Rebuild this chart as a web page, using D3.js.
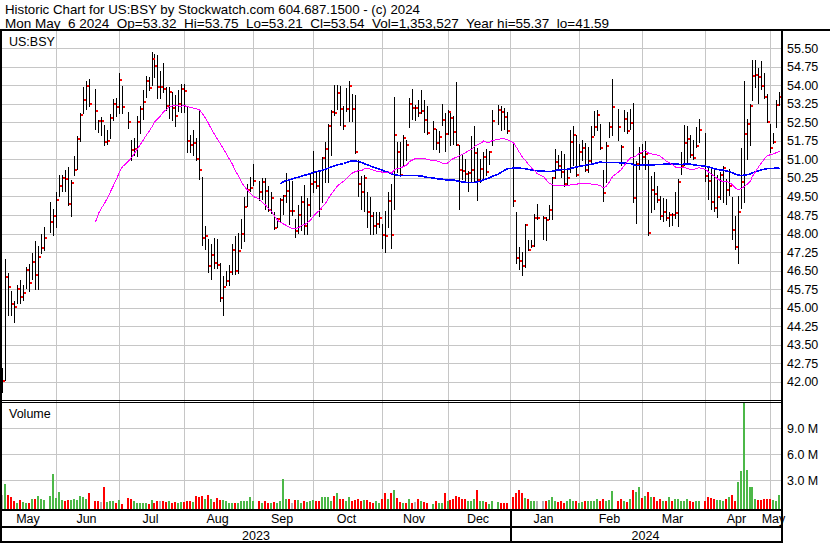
<!DOCTYPE html>
<html><head><meta charset="utf-8">
<script src="https://cdn.jsdelivr.net/npm/d3@7"></script>
<style>
body{margin:0;background:#fff}
svg{display:block}
text{font-family:"Liberation Sans",Arial,sans-serif;fill:#000}
</style></head>
<body><svg id="c" width="830" height="543"></svg>
<script>
// ---- data: one entry per weekday slot (May 8 2023 .. May 6 2024); null = market holiday
const high=[42.55,46.96,46.42,45.67,45.26,45.90,46.12,45.90,46.66,46.75,
47.23,47.70,47.50,47.97,48.25,null,49.26,48.99,49.67,50.35,
50.35,50.59,50.69,50.15,51.12,51.95,52.86,53.94,54.17,54.25,
null,53.85,52.59,52.72,52.38,52.18,52.82,53.44,53.47,54.52,
53.98,null,52.92,51.77,51.87,52.76,53.15,53.81,54.39,54.32,
55.37,55.26,55.23,54.58,54.89,53.94,53.94,53.74,53.60,53.81,
54.04,54.04,53.13,52.00,52.18,51.87,52.95,50.28,48.31,47.77,
47.57,47.80,47.77,46.82,46.28,46.48,46.71,47.57,47.88,48.04,
48.59,49.47,50.01,50.28,50.82,null,50.14,50.24,50.24,49.91,
49.67,48.88,48.61,49.43,49.56,50.44,50.21,50.14,48.59,49.15,
49.53,49.97,49.43,50.42,51.36,50.55,50.51,51.09,51.70,52.45,
53.02,54.01,54.01,53.98,53.17,53.90,54.17,53.63,53.60,50.96,
50.32,50.35,49.67,49.47,48.88,48.88,48.86,48.38,48.92,49.67,
50.01,53.53,51.70,51.70,52.00,51.77,53.49,53.85,53.22,53.40,
53.81,53.40,53.15,null,52.54,52.25,52.14,53.26,52.86,52.99,
52.92,52.76,54.14,51.60,51.16,51.00,50.55,51.95,52.35,51.46,
51.00,51.32,51.43,51.36,52.99,null,53.22,53.17,53.09,52.92,
null,51.70,48.88,47.46,47.26,48.38,47.74,47.74,48.79,49.20,
null,48.69,48.65,49.15,50.28,51.43,51.16,51.36,51.23,50.62,
52.18,52.35,52.00,51.64,51.77,51.68,51.50,52.35,52.95,52.99,
52.45,50.59,51.70,52.52,54.25,null,53.03,51.60,52.99,52.92,
53.06,53.30,50.92,51.50,51.64,51.73,50.96,50.31,50.48,49.91,
49.53,49.43,49.40,48.88,48.83,49.67,50.21,51.30,52.41,52.35,
52.00,51.77,52.31,52.63,null,52.08,50.75,50.69,50.59,50.35,
50.51,50.75,50.21,50.62,49.47,48.72,49.53,51.46,54.17,52.63,
53.26,55.03,55.03,54.69,54.98,54.48,53.63,52.45,52.08,53.40,
53.75];
const low=[41.59,42.08,44.72,44.72,44.41,45.20,45.20,45.30,45.81,45.67,
46.14,45.76,45.76,47.23,47.34,null,48.08,47.95,48.25,49.51,
49.74,49.74,49.15,48.72,50.35,50.62,51.75,52.86,53.06,53.15,
null,52.22,52.11,51.97,51.60,51.64,51.87,52.59,52.76,52.90,
52.88,null,52.27,50.96,51.16,51.13,52.08,52.65,53.53,53.81,
54.01,54.32,53.47,53.49,53.74,52.99,52.68,52.59,52.35,52.95,
52.92,52.92,51.32,51.32,51.16,50.96,50.21,47.53,47.39,46.44,
46.17,46.62,46.62,45.26,44.72,45.90,45.90,46.35,46.35,46.39,
47.43,47.68,49.13,49.74,49.97,null,49.37,49.40,48.99,48.92,
48.83,48.18,48.25,48.48,48.79,49.26,48.38,48.75,47.84,48.02,
48.15,47.97,47.97,48.72,49.67,49.83,48.69,49.29,50.10,50.10,
51.16,52.79,53.06,52.38,52.25,52.95,52.54,52.54,51.27,49.53,
48.99,48.92,48.25,47.97,47.97,48.02,48.25,47.43,47.26,48.25,
47.43,48.99,50.48,50.32,50.73,50.96,52.31,52.65,52.59,52.75,
52.86,52.11,52.04,null,51.43,51.41,51.32,52.38,51.36,52.04,
51.60,51.64,51.57,48.99,50.19,50.08,49.74,50.14,50.14,49.37,
50.08,50.21,50.37,50.82,51.60,null,52.45,52.18,52.25,52.08,
null,49.13,46.82,46.55,46.31,46.66,47.32,47.46,47.50,48.59,
null,47.77,47.74,48.59,48.59,50.24,50.62,50.28,49.94,49.97,
50.51,50.78,50.32,50.75,50.96,50.55,50.51,50.86,52.00,52.18,
51.43,49.33,50.10,51.91,51.97,null,51.77,50.78,52.14,52.08,
52.25,49.29,48.42,50.62,50.82,50.62,47.93,48.86,48.99,49.26,
48.59,48.52,48.56,48.31,48.34,48.61,48.31,50.42,50.78,50.89,
51.09,51.03,51.50,51.70,null,50.14,49.40,48.99,48.92,48.65,
49.40,49.26,49.20,49.56,47.77,47.39,46.82,49.02,49.26,51.03,
51.60,53.40,53.94,53.30,53.85,53.49,52.52,51.32,51.68,52.31,
53.21];
const close=[42.04,46.25,45.85,45.16,45.03,45.77,45.44,45.60,46.52,46.01,
46.85,46.33,47.03,47.43,47.80,null,48.45,48.72,49.34,49.91,
50.24,50.19,49.21,50.04,50.59,51.83,52.80,53.41,53.98,53.24,
null,52.96,52.55,52.55,51.70,51.73,52.67,53.25,53.11,54.23,
53.11,null,52.50,51.37,51.43,52.52,53.05,53.33,54.17,53.90,
55.07,54.80,53.93,53.93,53.86,53.15,53.74,53.09,52.76,53.26,
53.85,53.76,51.73,51.57,51.65,51.00,50.59,47.80,47.88,46.69,
47.13,46.81,46.71,45.40,45.85,46.08,46.44,47.35,46.48,47.31,
48.00,49.09,49.77,49.86,50.14,null,49.70,50.10,49.71,48.96,
49.45,48.21,48.57,49.37,49.51,49.72,48.90,48.90,48.10,48.76,
49.26,48.29,49.17,49.99,50.10,49.91,48.98,51.05,51.41,52.35,
52.92,52.88,53.70,53.05,52.35,53.06,53.97,53.06,51.32,49.99,
49.70,50.24,48.86,48.69,48.29,48.40,48.61,47.96,47.91,49.30,
47.96,51.97,51.32,50.35,51.85,51.57,53.24,53.09,53.09,52.87,
52.95,52.59,52.06,null,52.22,51.65,51.91,52.59,52.02,52.91,
52.68,52.11,51.58,50.59,50.55,50.40,50.47,50.59,51.26,50.17,
50.61,51.09,50.48,51.32,52.54,null,53.02,52.92,52.72,52.14,
null,49.33,47.01,46.89,46.69,48.35,47.34,47.50,48.61,48.61,
null,48.61,48.56,48.94,50.24,50.89,50.75,50.48,50.01,50.24,
51.70,51.97,50.35,51.32,51.46,50.59,50.92,51.91,52.31,52.79,
51.46,49.63,51.54,52.31,53.11,null,52.31,51.50,52.63,52.14,
52.48,49.43,50.80,51.27,51.09,51.22,48.04,49.78,49.60,49.37,
48.69,48.86,48.64,48.77,48.75,48.82,50.10,50.75,51.66,51.81,
51.16,51.05,51.54,52.18,null,50.32,50.12,49.26,49.05,49.47,
50.35,50.66,49.78,49.91,48.14,47.47,48.86,50.08,52.01,52.42,
53.17,54.39,54.42,54.33,53.98,53.53,52.52,51.46,51.70,53.21,
53.54];
// volume in millions of shares
const volume=[1.33,2.56,1.33,1.13,0.56,0.37,0.75,0.48,0.37,0.37,
0.87,0.87,1.21,0.87,0.75,null,1.21,3.75,0.94,1.67,
0.71,0.56,0.75,0.75,0.83,0.75,1.21,1.13,0.87,1.56,
null,0.63,0.56,0.44,2.25,0.44,0.56,0.63,0.33,0.75,
0.29,null,0.98,0.79,0.56,0.33,0.33,0.40,0.33,0.25,
0.75,0.33,0.63,0.56,0.56,0.48,0.56,0.33,0.48,0.40,
0.48,0.48,0.63,0.63,0.48,1.21,1.02,1.21,0.90,1.33,
0.87,0.48,0.94,0.71,0.75,0.56,0.40,0.40,0.40,0.40,
0.63,0.56,0.56,1.02,0.63,null,0.63,0.40,0.63,0.40,
0.37,0.48,0.37,0.63,3.17,0.87,0.87,0.40,0.75,0.75,
0.40,0.56,0.48,0.63,0.75,0.56,0.63,1.10,1.10,1.02,
0.63,1.21,1.48,0.87,0.79,0.63,1.10,0.56,0.71,0.90,
0.56,0.71,0.71,0.48,0.33,0.63,0.40,0.87,1.56,0.87,
1.56,1.90,0.98,0.48,0.40,0.40,0.87,0.33,0.48,0.79,
0.56,0.48,0.40,null,0.29,0.56,0.40,0.40,1.48,0.63,
0.75,0.87,1.21,1.02,0.87,0.87,0.63,0.63,0.87,1.90,
0.63,0.63,0.48,0.29,0.63,null,0.48,0.40,0.40,0.33,
null,1.02,1.48,1.90,1.48,0.98,0.87,0.63,0.63,0.56,
null,0.63,0.56,0.75,1.02,0.63,0.48,0.56,0.40,0.63,
0.79,0.63,0.56,0.40,0.48,0.56,0.56,0.63,0.63,0.87,
0.56,0.90,0.63,0.75,1.80,null,0.63,0.87,0.56,0.48,
0.87,1.90,1.67,2.20,0.94,1.21,1.67,1.02,1.02,0.63,
0.87,0.63,0.63,1.02,0.63,0.87,0.87,0.63,0.63,0.87,
0.56,0.48,0.63,0.56,null,0.63,1.02,0.94,0.87,0.75,
0.75,0.63,0.87,1.13,1.33,0.63,2.80,4.10,12.4,4.20,
2.20,2.20,0.87,0.71,0.71,0.87,0.87,0.87,0.71,0.63,
1.35];
const monthLabels=["May","Jun","Jul","Aug","Sep","Oct","Nov","Dec","Jan","Feb","Mar","Apr","May"];
const monthStartSlots=[0,18,39,61,84,104,127,149,170,193,214,235,257];
const yearLabels=["2023","2024"];
const yearStartSlots=[0,170];
const lastSlot=260;
const priceTicks=[42.00,42.75,43.50,44.25,45.00,45.75,46.50,47.25,48.00,48.75,49.50,50.25,51.00,51.75,52.50,53.25,54.00,54.75,55.50];
const volTicks=[3,6,9];
const headerLine1="Historic Chart for US:BSY by Stockwatch.com 604.687.1500 - (c) 2024";
const headerLine2="Mon May  6 2024  Op=53.32  Hi=53.75  Lo=53.21  Cl=53.54  Vol=1,353,527  Year hi=55.37  lo=41.59";
const symbol="US:BSY";
const maShort=30, maLong=90;

// ---- layout
const svg=d3.select("#c");
const L=2, R=781, PT=31, PB=400, VT=402, VB=509;
const x=d3.scaleLinear().domain([0,lastSlot]).range([2,779.4]);
const px=s=>Math.round(x(s));
const y=d3.scaleLinear().domain([42,55.5]).range([381.7,48.3]);
const yv=d3.scaleLinear().domain([0,12]).range([506.3,402.3]);
const GRID="#c6c6c6";

svg.append("rect").attr("width",830).attr("height",543).attr("fill","#fff");

// header
svg.append("text").attr("x",5).attr("y",14).attr("font-size",13).attr("textLength",415)
  .attr("lengthAdjust","spacingAndGlyphs").style("white-space","pre").text(headerLine1);
svg.append("text").attr("x",5).attr("y",27.5).attr("font-size",13).attr("textLength",604)
  .attr("lengthAdjust","spacingAndGlyphs").style("white-space","pre").attr("xml:space","preserve").text(headerLine2);

const g=svg.append("g").attr("shape-rendering","crispEdges");
// horizontal grid price
g.selectAll(".hp").data(priceTicks).join("line")
  .attr("x1",L).attr("x2",R).attr("y1",d=>Math.round(y(d))+0.5).attr("y2",d=>Math.round(y(d))+0.5)
  .attr("stroke",GRID);
g.selectAll(".hv").data(volTicks).join("line")
  .attr("x1",L).attr("x2",R).attr("y1",d=>Math.round(yv(d))+0.5).attr("y2",d=>Math.round(yv(d))+0.5)
  .attr("stroke",GRID);
// vertical month grid
g.selectAll(".vm").data(monthStartSlots.slice(1)).join("line")
  .attr("x1",d=>px(d)+0.5).attr("x2",d=>px(d)+0.5).attr("y1",PT).attr("y2",VB)
  .attr("stroke",GRID);

// labels inside panels
svg.append("text").attr("x",9).attr("y",45.5).attr("font-size",12.5).text(symbol);
svg.append("text").attr("x",9).attr("y",418).attr("font-size",12.5).text("Volume");

// price bars
const slots=d3.range(0,lastSlot+1).filter(i=>close[i]!==null);
g.selectAll(".bar").data(slots).join("line")
  .attr("x1",d=>px(d)+0.5).attr("x2",d=>px(d)+0.5)
  .attr("y1",d=>Math.round(y(high[d]))).attr("y2",d=>Math.round(y(low[d]))+1)
  .attr("stroke","#000").attr("stroke-width",1);

// moving averages
function sma(n){
  const out=[];
  for(let k=n-1;k<slots.length;k++){
    let s=0; for(let j=k-n+1;j<=k;j++) s+=close[slots[j]];
    out.push({s:slots[k],v:s/n});
  }
  return out;
}
const line=d3.line().x(d=>px(d.s)+0.5).y(d=>y(d.v));
svg.append("path").datum(sma(maLong)).attr("d",line).attr("fill","none")
  .attr("stroke","#0000ff").attr("stroke-width",1.6).attr("shape-rendering","crispEdges");
svg.append("path").datum(sma(maShort)).attr("d",line).attr("fill","none")
  .attr("stroke","#ff00ff").attr("stroke-width",1).attr("shape-rendering","crispEdges");

// close ticks on top
g.selectAll(".cl").data(slots).join("rect")
  .attr("x",d=>px(d)+1).attr("y",d=>Math.round(y(close[d]))-1)
  .attr("width",2).attr("height",2).attr("fill","#ff0000");

// volume bars
const clipId="vclip";
svg.append("clipPath").attr("id",clipId).append("rect").attr("x",L).attr("y",VT+1).attr("width",R-L).attr("height",VB-VT-1);
const prevClose=i=>{for(let j=i-1;j>=0;j--) if(close[j]!==null) return close[j]; return null;};
const vcol=i=>{const p=prevClose(i); if(p===null||Math.abs(close[i]-p)<0.005) return "#b4b4b4"; return close[i]>p?"#4cb848":"#ff0000";};
g.append("g").attr("clip-path",`url(#${clipId})`).selectAll("rect").data(slots).join("rect")
  .attr("x",d=>px(d)-1).attr("width",2)
  .attr("y",d=>Math.round(yv(volume[d]))).attr("height",d=>VB-Math.round(yv(volume[d])))
  .attr("fill",d=>vcol(d));

// frame
const blk=(x0,y0,w,h)=>g.append("rect").attr("x",x0).attr("y",y0).attr("width",w).attr("height",h).attr("fill","#000");
blk(0,29,830,2);
blk(0,29,2,514);
blk(781,29,2,514);
blk(0,400,783,1);
blk(0,402,783,1);
blk(0,509,783,2);
blk(0,526,783,2);
blk(0,541,783,2);
blk(px(yearStartSlots[1]),509,2,34);

// right axes
const ax=svg.append("g").attr("transform","translate(783,0)")
  .call(d3.axisRight(y).tickValues(priceTicks).tickFormat(d3.format(".2f")).tickSize(0).tickPadding(4));
ax.select(".domain").remove();
ax.selectAll("text").attr("font-size",12.5).attr("font-family","Liberation Sans, Arial, sans-serif").attr("fill","#000");
const av=svg.append("g").attr("transform","translate(783,0)")
  .call(d3.axisRight(yv).tickValues(volTicks).tickFormat(d=>d.toFixed(1)+" M").tickSize(0).tickPadding(4));
av.select(".domain").remove();
av.selectAll("text").attr("font-size",12.5).attr("font-family","Liberation Sans, Arial, sans-serif").attr("fill","#000");

// month labels
const bounds=monthStartSlots.map(s=>s===0?L:px(s)).concat([px(lastSlot)]);
svg.selectAll(".ml").data(monthLabels).join("text")
  .attr("x",(d,i)=>(bounds[i]+bounds[i+1])/2-1).attr("y",523).attr("text-anchor","middle")
  .attr("font-size",12.5).text(d=>d);
const yb=[L,px(yearStartSlots[1]),R];
svg.selectAll(".yl").data(yearLabels).join("text")
  .attr("x",(d,i)=>(yb[i]+yb[i+1])/2).attr("y",539.5).attr("text-anchor","middle")
  .attr("font-size",12.5).text(d=>d);
</script></body></html>
